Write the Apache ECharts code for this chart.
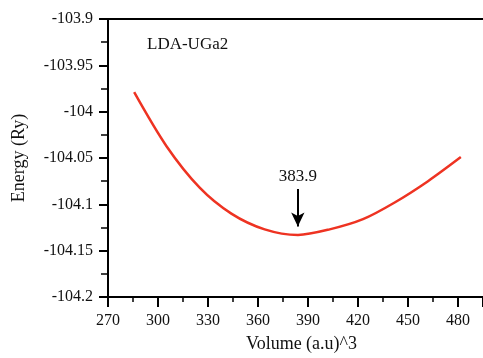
<!DOCTYPE html>
<html><head><meta charset="utf-8">
<script src="https://cdn.jsdelivr.net/npm/echarts@6/dist/echarts.min.js"></script>
<style>html,body{margin:0;padding:0;background:#fff}#c{width:483px;height:358px}</style>
</head><body><div id="c"></div>
<script>
const volumes = [285.7, 305, 325, 344, 364, 384, 403, 423, 442, 462, 481.7];
const energies = [-103.979, -104.037, -104.082, -104.110, -104.127, -104.133, -104.127, -104.116, -104.098, -104.075, -104.049];
const minVolume = 383.9;
const arrowFrom = -104.0835, arrowTo = -104.1238;
const seriesLabel = 'LDA-UGa2';
const xName = 'Volume (a.u)^3', yName = 'Energy (Ry)';

const font = '"Liberation Serif","DejaVu Serif",serif';
const chart = echarts.init(document.getElementById('c'));
chart.setOption({
  animation: false,
  grid: {left: 108, top: 19, right: 0, bottom: 56},
  xAxis: [{
    type: 'value', min: 270, max: 495, interval: 30,
    name: xName, nameLocation: 'middle', nameGap: 38,
    nameTextStyle: {fontFamily: font, fontSize: 18, color: '#111', padding: [0,0,0,12]},
    axisLine: {lineStyle: {color: '#000', width: 2}},
    axisTick: {length: 10, lineStyle: {color: '#000', width: 2}},
    minorTick: {show: true, splitNumber: 2, length: 5, lineStyle: {color: '#000', width: 1.5}},
    axisLabel: {fontFamily: font, fontSize: 16, color: '#111', margin: 16, showMaxLabel: false},
    splitLine: {show: false}
  }, {
    type: 'value', min: 270, max: 495, position: 'top',
    axisLine: {show: true, lineStyle: {color: '#000', width: 2}},
    axisTick: {show: false}, axisLabel: {show: false}, splitLine: {show: false}
  }],
  yAxis: {
    type: 'value', min: -104.2, max: -103.9, interval: 0.05,
    name: yName, nameLocation: 'middle', nameGap: 80, nameRotate: 90,
    nameTextStyle: {fontFamily: font, fontSize: 18, color: '#111'},
    axisLine: {lineStyle: {color: '#000', width: 2}},
    axisTick: {length: 9, lineStyle: {color: '#000', width: 2}},
    minorTick: {show: true, splitNumber: 2, length: 7, lineStyle: {color: '#000', width: 1.5}},
    axisLabel: {fontFamily: font, fontSize: 16, color: '#111', margin: 15,
      formatter: v => String(parseFloat(v.toFixed(3)))},
    splitLine: {show: false}
  },
  graphic: [{type: 'text', left: 147, top: 36,
    style: {text: seriesLabel, font: '17px ' + font, fill: '#111'}}],
  series: [{
    type: 'line', data: volumes.map((v, i) => [v, energies[i]]),
    symbol: 'none', smooth: 0.3,
    lineStyle: {color: '#ee3322', width: 2.5},
    markLine: {
      silent: true, symbol: ['none', 'arrow'], symbolSize: [10, 14],
      lineStyle: {color: '#000', width: 2, type: 'solid'},
      label: {show: true, position: 'start', formatter: String(minVolume),
        fontFamily: font, fontSize: 17, color: '#111', distance: 4},
      data: [[{coord: [minVolume, arrowFrom]}, {coord: [minVolume, arrowTo]}]]
    }
  }]
});
</script></body></html>
